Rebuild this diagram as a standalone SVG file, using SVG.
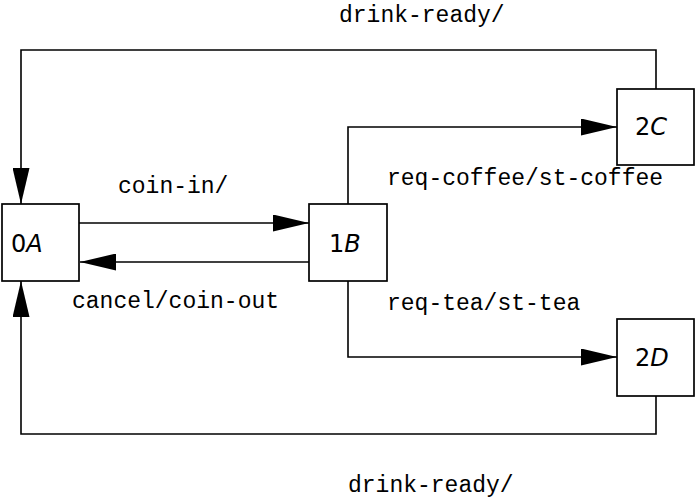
<svg xmlns="http://www.w3.org/2000/svg" width="695" height="498" viewBox="0 0 695 498">
  <style>
    .box { fill: #fff; stroke: #000; stroke-width: 1.7; }
    .wire { fill: none; stroke: #000; stroke-width: 1.6; }
    .lbl { font-family: "Liberation Mono", "DejaVu Sans Mono", monospace; font-size: 23px; fill: #000; }
    .nd { font-family: "DejaVu Sans", "Liberation Sans", sans-serif; font-size: 24px; fill: #000; }
    .it { font-style: italic; }
  </style>
  <defs>
    <marker id="ah" markerUnits="userSpaceOnUse" markerWidth="36" markerHeight="17" refX="36" refY="8.5" orient="auto">
      <path d="M0,0 L36,8.5 L0,17 z" fill="#000"/>
    </marker>
  </defs>
  <rect width="695" height="498" fill="#fff"/>
  <g id="connectors">
    <path class="wire" d="M656,89 V50 H21 V204" marker-end="url(#ah)"/>
    <path class="wire" d="M79,223 H309" marker-end="url(#ah)"/>
    <path class="wire" d="M309,262 H80" marker-end="url(#ah)"/>
    <path class="wire" d="M348,204 V127 H617" marker-end="url(#ah)"/>
    <path class="wire" d="M348,280 V357 H617" marker-end="url(#ah)"/>
    <path class="wire" d="M656,396 V434 H21 V281" marker-end="url(#ah)"/>
    <text class="lbl" x="339" y="22">drink-ready/</text>
    <text class="lbl" x="118" y="193">coin-in/</text>
    <text class="lbl" x="72" y="308">cancel/coin-out</text>
    <text class="lbl" x="387" y="185">req-coffee/st-coffee</text>
    <text class="lbl" x="387" y="310">req-tea/st-tea</text>
    <text class="lbl" x="348" y="492">drink-ready/</text>
  </g>
  <g id="node-0A">
    <rect class="box" x="2" y="204" width="77" height="77"/>
    <text class="nd" x="11" y="252">0<tspan class="it">A</tspan></text>
  </g>
  <g id="node-1B">
    <rect class="box" x="309" y="204" width="78" height="77"/>
    <text class="nd" x="329" y="252">1<tspan class="it">B</tspan></text>
  </g>
  <g id="node-2C">
    <rect class="box" x="617" y="89" width="77" height="76"/>
    <text class="nd" x="635" y="135">2<tspan class="it">C</tspan></text>
  </g>
  <g id="node-2D">
    <rect class="box" x="617" y="319" width="77" height="77"/>
    <text class="nd" x="635" y="366">2<tspan class="it">D</tspan></text>
  </g>
</svg>
